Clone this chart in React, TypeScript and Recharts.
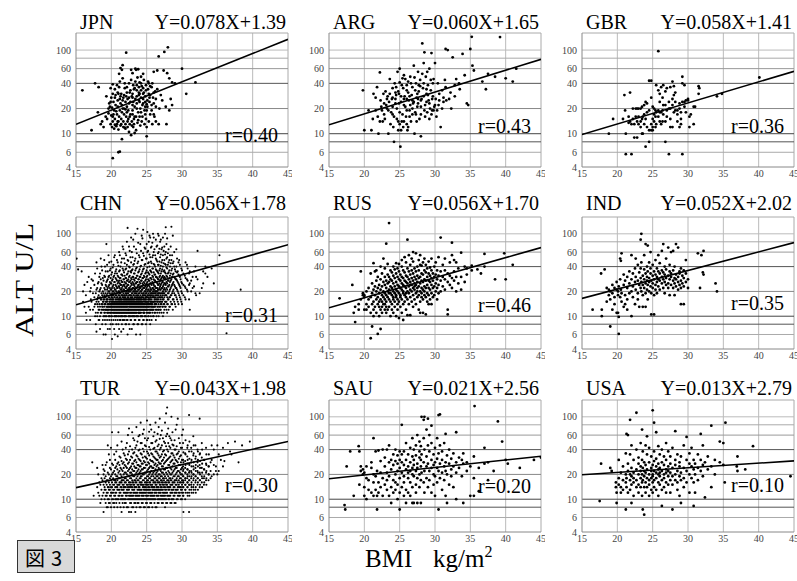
import { ScatterChart, Scatter, XAxis, YAxis, ReferenceLine } from 'recharts';

const SERIF = '"Liberation Serif", "Times New Roman", serif';

const countries = ['JPN', 'ARG', 'GBR', 'CHN', 'RUS', 'IND', 'TUR', 'SAU', 'USA'];
const slopes = [0.078, 0.06, 0.058, 0.056, 0.056, 0.052, 0.043, 0.021, 0.013];
const intercepts = [1.39, 1.65, 1.41, 1.78, 1.7, 2.02, 1.98, 2.56, 2.79];
const rValues = ['0.40', '0.43', '0.36', '0.31', '0.46', '0.35', '0.30', '0.20', '0.10'];
const xTicks = [15, 20, 25, 30, 35, 40, 45];
const yTicks = [4, 6, 10, 20, 40, 60, 100];
const yGrid = [6, 8, 10, 20, 40, 60, 80, 100];
const xGrid = [20, 25, 30, 35, 40];

const JPN = `15.9:33 17.2:11 17.7:40 18.2:36 18.5:13 18.1:18 18.7:14 18.9:12 19.3:28 19.6:20 19.2:16 22.1:93 26.7:84 27.5:95 28:108 30:60 30.6:30 31.9:41 29:40 28.6:41 27.8:13 26.7:13 25:9.3 21.2:6.1 21:6 20.2:5.1 21.5:8.6 22.8:9.6 23.3:10.2 27.9:53 28.2:46 27.4:57 26:55 25.3:40 26.5:57 28.6:22 28.2:19 27.7:21 27.2:25 26.8:20 26.3:21 26.2:32 25.7:36 25.5:37 26:31 25.2:42 24.9:33 24.5:52 24.2:48 23.8:59 23.4:60 23:53 22.8:58 21.5:58 21.3:61 21.1:52 21.6:66 23.5:58 24.6:44 24.2:40 23.9:36 23.6:33 23.2:34 22.9:28 22.6:31 22.3:26 22:24 21.7:27 21.4:30 21.1:36 20.8:38 20.5:34 20.2:39 19.9:35 20.3:24 20.6:22 20.9:21 21.2:19 21.5:18 21.8:17 22.1:16 22.4:15 22.7:17 23:19 23.3:21 23.6:23 23.9:25 24.2:27 24.5:26 24.8:28 25.1:25 25.4:24 25.7:22 26:23 24.4:22 24.1:20 23.8:18 23.5:16 23.2:15 22.9:14 22.6:13 22.3:12 22:13 21.7:14 21.4:15 21.1:16 20.8:17 20.5:15 20.2:14 19.9:13 20.1:12 20.4:11.5 20.7:12.3 21:11.2 21.3:12.5 21.9:11.8 22.5:10.5 23.1:12 23.7:13.5 24.3:14 24.9:15 25.5:17 26.1:16 24.7:19 24:24 23.1:24 22.2:21 21.3:23 20.4:19 19.8:21 20:16.5 20.9:25 21.8:29 22.7:33 23.6:38 24.5:35 25.3:30 25.9:27 24.8:21 23.4:26 22.5:23 21.6:20 20.7:18.5 22.2:18 23:17 24:16 25:19 25.8:13 26.3:26 19.6:17.5 20.1:20.5 21:14 22:19.5 23:22 24:30 25:22.5 26.5:34 27:29 28.4:26
19.4:15 19.7:23 20:27 20.3:17 20.6:29 20.9:14 21.2:26 21.5:22 21.8:20 22.1:28 22.4:19 22.7:24 23:27 23.3:16 23.6:20 23.9:29 24.2:18 24.5:23 24.8:17 25.1:21 25.4:27 25.7:19 26:17 26.3:14 22.2:36 22.5:40 22.8:44 23.1:38 23.4:42 23.7:47 24:41 24.3:37 24.6:31 24.9:38 25.2:34 25.5:29 25.8:40 21.6:46 21.9:40 21.2:42 20.9:31 20.5:27 20.2:30 19.9:24 21.4:13 21.7:12 22:11.5 22.3:14 22.6:16 22.9:12.5 23.2:13 23.5:11 23.8:14.5 24.1:12.5 24.4:16 24.7:13 25:12 25.3:14 20.8:13 20.5:12.8 20.2:16 23:30 23.3:35 23.6:28 23.9:31 24.2:33 24.5:30 24.8:24 22.5:27 22.2:31 21.9:35 21.6:25 21.3:28 21:30`;

const ARG = `19.8:33 20:11 21:11 21.3:30 21.6:27 21.8:36 22:10 22.2:54 22.3:25 22.5:19 22.7:30 22.9:15 23.1:22 23.3:28 23.4:10 23.6:45 23.8:18 24:35 24.1:12 24.2:8 24.3:40 24.4:26 24.6:20 24.7:55 24.8:14 24.9:30 25:60 25.1:7 25.2:24 25.3:38 25.4:17 25.5:12 25.6:50 25.7:28 25.8:21 25.9:16 26:33 26.1:11 26.2:42 26.3:25 26.4:19 26.5:48 26.6:14 26.7:29 26.8:36 26.9:23 27:65 27.1:10 27.2:18 27.3:40 27.4:27 27.5:21 27.6:55 27.7:32 27.8:15 27.9:44 28:9.3 28.1:26 28.2:120 28.3:35 28.4:70 28.5:94 28.6:22 28.7:48 28.8:30 28.9:18 29:38 29.1:25 29.2:60 29.3:20 29.4:33 29.5:92 29.6:19 29.7:28 29.8:45 29.9:21 30:70 30.2:16 30.4:40 30.6:30 30.8:12 31:33 31.2:27 31.4:44 31.5:103 31.8:100 32:26 32.3:20 32.5:82 32.8:38 33:45 33.5:34 33.9:90 34.2:50 34.5:23 34.7:22 35:103 35.2:144 35.3:65 35.5:57 36.7:42 37.2:34 37.5:52 38.5:48 39.2:143 40:46 41:42 41.5:60 23:32 23.5:24 24:21 24.5:29 25:18 25.5:35 26:26 26.5:22 27:24 27.5:30 28:25 28.5:19 29:29 24.2:16 25.3:14 26.4:16 27.3:17 25.8:45 24.5:36 23.7:13 22.8:17 23.2:20 26.8:20 27.6:23 28.8:24 29.5:17 30.1:26 30.5:22 31.2:24 31.6:25 24.9:23 25.6:26 26.2:31 23.9:26 22.4:21 21.9:16 22.6:14 24.8:11 25.2:11 26:13 27.9:37 28.4:40 29.7:40 30.3:19
23.2:26 23.6:30 24:17 24.4:23 24.8:32 25.2:28 25.6:22 26:19 26.4:28 26.8:25 27.2:33 27.6:26 28:21 28.4:28 28.8:34 29.2:23 29.6:26 30:22 25:41 25.4:46 26:38 26.6:40 27.1:47 27.7:38 28.2:52 28.9:55 29.4:44 24.6:15 25:13 25.6:14 26.2:12 26.8:17 27.4:14 28:17 28.6:16 29.2:15 29.8:19 30.6:25 31:20 31.5:36 32.2:31 32.8:28 33.4:40 24:27 24.4:31 23.4:19 22.8:23 22.2:14 21.6:19 21.2:15 20.6:19`;

const GBR = `18.8:10 19.4:15 20.8:15 21:29 21.1:19 21.2:10,5.7 21.6:13.5,16 21.8:31,14 22:5.7,13 22.2:15,20 22.4:13,9 22.6:16,20 22.8:9,14,20 23:20,16,13 23.3:12,14,20 23.5:15,21,10 23.6:10,16 23.8:22,17,13 24:7,15,24 24.2:23,12,18 24.5:8,43,19,11 24.8:43,27,13,11 25:12,15,21,11 25.2:20,17,14 25.4:19,12,16 25.5:38,18,13 25.8:97,33,19,16 26:30,18,24,14 26.2:18,13,36 26.4:19,27,14 26.5:38,22,17 26.8:8,22,14,32 27:35,19,16 27.3:5.7,20,24 27.5:20,36,15,12 27.8:42,12,26,22 28:37,18,29 28.2:31,24,19 28.5:19,14,17 28.8:23,20,12 29:15,13,18 29.2:5.7,48,40,24 29.5:38,24,21 29.7:25,18 30:25,26 30.2:12,16 30.4:17 30.8:13,21 31:21 31.5:37,30 31.6:35 34.1:28 34.8:30 40.1:47`;

const CHN = `15.1:50 15.3:37 15.8:35 16.2:13,24 16.5:9 16.8:13,30 17.1:16,22 17.4:12,19,27 17.7:10,14,33 17.9:6.5,15,21,45 18.1:13,17,25,11 18.3:9,14,20,30,12 18.5:11,16,22,28,50 18.7:8,13,18,14,24,36 18.9:6,10,15,19,12,27,16 19.1:9,12,14,17,21,30,11,40 19.3:10,13,15,18,23,16,26,12,75 19.5:7,11,12,14,16,19,22,28,35,13 19.7:9,10,13,15,17,20,24,31,12,45 19.9:8,11,12,14,16,18,21,25,13,29,38 20.1:5.3,10,12,13,15,17,19,22,27,34,14,16 20.3:9,11,12,14,16,18,20,24,30,13,42,15 20.5:6,10,11,13,14,15,17,19,21,26,33,12,55 20.7:8,10,12,13,15,16,18,20,23,28,37,14,11 20.9:5.7,9,11,12,14,15,17,19,22,25,31,45,13,16 21.1:7,10,11,12,13,15,16,18,20,23,27,35,14,60 21.3:9,10,12,13,14,16,17,19,21,24,29,40,15,11 21.5:8,10,11,12,14,15,16,18,20,22,26,32,50,13 21.7:7,9,11,12,13,14,16,17,19,21,24,28,36,15,65 21.9:9,10,11,13,14,15,17,18,20,23,26,31,44,12,16 22.1:8,10,12,13,14,15,16,18,19,22,25,29,38,55,11 22.3:6,9,11,12,13,15,16,17,19,21,24,27,33,48,118,14 22.5:8,10,11,12,14,15,16,18,20,22,26,30,40,70,13 22.7:9,10,12,13,14,15,17,18,20,23,27,35,52,11,16 22.9:7,10,11,12,13,14,16,17,19,21,24,28,36,60,15 23.1:8,10,11,13,14,15,16,18,20,22,25,30,42,85,12 23.3:9,10,12,13,14,16,17,19,21,23,27,33,47,11,15 23.5:6,10,11,12,14,15,16,18,20,22,25,29,38,65,13 23.7:8,10,12,13,14,15,17,18,20,23,26,31,44,115,16 23.9:9,11,12,13,15,16,17,19,21,24,28,35,55,14,11 24.1:6,10,11,12,14,15,16,18,20,22,25,30,40,75,13 24.3:8,10,12,13,14,16,17,19,21,23,27,33,48,95,15 24.5:9,11,12,13,15,16,18,19,22,24,29,37,58,112,14 24.7:10,11,12,14,15,16,18,20,22,25,30,42,68,13 24.9:8,10,12,13,15,16,17,19,21,24,28,34,50,17 25.1:9,11,12,14,15,17,18,20,23,26,31,39,60,105,13 25.3:10,11,13,14,16,17,19,21,24,27,33,45,80,15 25.5:8,11,12,14,15,17,18,20,22,25,29,36,52,90,16 25.7:9,12,13,15,16,18,19,21,24,28,34,44,70,14 25.9:10,12,13,15,17,18,20,22,25,30,38,55,100 26.1:11,13,14,16,17,19,21,23,27,32,42,65,15 26.3:9,12,14,15,17,19,20,22,26,30,37,50,85 26.5:11,13,15,16,18,20,22,25,29,35,46,72 26.7:10,12,14,16,18,19,21,24,28,33,42,60,95 26.9:12,13,15,17,19,21,23,27,31,38,52,80 27.1:11,14,15,17,19,22,25,29,35,45,65 27.3:10,13,16,18,20,23,26,31,40,55,90 27.5:12,14,17,19,22,25,30,36,48,70 27.7:13,15,18,20,24,28,33,42,60,120 27.9:11,14,17,21,25,30,38,52,88 28.1:12,16,19,23,27,34,45,65 28.3:13,17,21,26,31,40,55 28.5:14,18,23,28,36,48,122 28.7:12,16,20,25,32,44,95 28.9:15,19,24,30,40,60 29.1:13,18,22,28,35 29.3:16,21,27,34,50 29.5:14,19,25,32,45 29.7:17,23,30,42 29.9:15,20,26,38 30.2:18,24,33 30.5:16,22,29,45 30.8:20,27,38 31.1:12,25,35 31.5:22,30 31.9:19,40 32.2:62,28 32.5:19 33:35,25 33.3:33,40 34.5:25 35.3:55 36.3:6.2 38.3:21
16:20,15 16.4:11,18 16.6:26 17:12,20,9 17.2:15,28 17.6:13,17,24 17.8:11,19,8 18:10,14,16,22,38 18.2:12,15,18,26,9 18.4:10,13,17,21,33,7 18.6:11,14,16,19,25,40,12 18.8:9,12,15,17,20,29,13 19:10,11,13,16,18,22,31,48,14 19.2:8,10,12,14,17,19,24,35,15,6 19.4:9,11,13,15,16,18,21,27,42,12 19.6:10,12,13,14,17,20,23,30,55,11 19.8:7,10,11,13,15,16,19,22,26,36,14 20:9,10,12,14,15,17,18,21,25,32,46,13,11 20.2:8,11,12,13,14,16,18,20,23,28,39,15 20.4:10,11,13,14,15,17,19,22,26,31,52,12,7 20.6:9,10,12,13,15,16,18,21,24,29,35,14,11 20.8:10,11,12,14,15,17,19,22,27,33,48,13 21:8,10,12,13,14,16,18,20,23,26,30,41,15,11 21.2:9,11,12,13,15,16,17,19,22,25,29,36,55,14 21.4:10,11,12,14,15,16,18,21,24,27,32,45,13,6.5 21.6:9,10,12,13,15,17,18,20,23,26,31,38,70,14,11 21.8:10,11,13,14,15,16,18,21,24,28,34,50,12 22:8,10,11,12,14,15,17,19,22,25,29,37,58,13,16 22.2:9,11,12,13,15,16,18,20,23,27,32,42,80,14 22.4:10,11,12,14,15,17,19,21,24,28,35,47,12,16 22.6:7,10,12,13,14,16,18,20,22,26,31,39,62,15,11 22.8:9,11,12,13,15,16,18,21,25,29,34,45,90,14 23:10,11,13,14,15,17,19,22,26,30,37,52,12,16 23.2:8,10,12,13,15,16,18,20,24,28,33,43,70,14,11 23.4:9,11,12,14,15,17,19,21,25,29,36,50,100,13 23.6:10,11,13,14,16,17,19,22,26,31,39,58,12,15 23.8:8,10,12,13,15,16,18,21,24,28,34,46,78,14,11 24:9,11,12,14,15,17,19,22,26,30,37,52,13,16 24.2:10,11,13,14,16,17,20,23,27,32,41,62,12,15 24.4:8,10,12,13,15,17,18,21,25,29,35,48,88,14 24.6:9,11,12,14,16,17,19,22,26,31,38,54,13,11 24.8:10,12,13,15,16,18,20,23,27,33,43,66,14 25:9,11,12,14,15,17,19,22,25,30,36,50,75,13 25.2:10,12,13,15,16,18,21,24,28,34,44,62,14 25.4:9,11,13,14,16,18,20,23,27,32,40,56,95,12 25.6:10,12,13,15,17,19,21,25,29,35,46,68,14 25.8:11,12,14,15,17,19,22,26,31,38,52,78,13 26:10,12,13,15,17,19,21,24,28,34,43,60,90 26.2:11,13,14,16,18,20,23,27,32,40,55 26.4:10,12,14,16,18,20,22,26,30,36,48,70 26.6:12,13,15,17,19,21,24,28,34,42,58,100 26.8:11,13,15,17,19,22,25,30,36,46,66 27:12,14,16,18,21,24,28,33,41,56,85 27.2:13,15,17,19,22,26,30,37,48,68 27.4:11,14,16,19,21,24,29,35,44,62 27.6:13,15,18,21,25,29,34,43,56,100 27.8:12,15,18,22,26,31,39,50,75 28:14,16,19,23,27,33,42,58 28.2:13,17,20,24,29,36,48 28.4:15,18,22,27,33,44,70 28.6:14,19,24,30,38,55 28.8:16,21,26,33,46 29:14,18,23,29,37 29.2:17,22,28,40,65 29.4:15,20,26,35 29.6:18,24,31,48 29.8:16,22,28 30:14,19,25,36 30.4:17,23,31 30.7:21,28,42 31:16,24,33 31.3:20,27 31.7:23,35 32:18,30 32.8:22 33.6:30 34.2:38`;

const RUS = `16.5:16.5 18.3:24 18.5:11 18.7:8.5,13 19.2:14,12 19.5:35,16 19.8:19,18 20:18,12,17 20.3:12,20,14 20.6:16,13,22 20.9:5.4,11,17,33 21.1:7.5,14,19,25 21.3:10,15,21,12,44 21.5:13,18,23,35 21.7:11,16,20,27,36 21.9:6.1,14,17,22,30 22.1:10,13,19,24,15 22.3:12,16,21,28,40,7 22.5:11,15,18,23,33,13 22.7:14,17,20,26,50 22.9:12,16,19,24,30,38,14 23.1:11,13,18,22,27,76,15 23.3:12,17,20,25,32,43 23.5:13,16,21,26,30,135,19 23.7:10,15,19,23,28,36 23.9:14,18,22,27,34,12 24.1:11,16,20,25,31,40,17 24.3:13,19,23,29,37,15 24.5:10,17,21,26,33,44,18 24.7:12,16,20,24,30,38,14 24.9:9.5,15,19,23,28,35,43 25.1:13,18,22,27,32,17 25.3:11,16,21,25,30,40,48 25.5:9,14,19,24,29,36,20 25.7:15,18,23,27,34,52 25.9:12,17,22,26,31,45,19 26.1:10.3,16,20,25,30,38,85 26.3:14,19,23,28,35,55 26.5:10.3,17,21,26,32,42,24 26.7:15,20,24,29,36,50 26.9:13,18,22,27,33,46,60 27.1:16,21,25,30,38,23 27.3:14,19,24,28,35,58 27.5:17,22,26,31,40,20 27.7:12,18,23,29,36,48 27.9:15,20,25,30,42,55,11 28.1:17,22,27,33,41,19 28.3:11,16,21,26,32,45 28.5:18,23,28,36,50,20 28.7:10.5,17,22,27,34,42 28.9:15,19,24,30,38 29.1:18,22,27,33,46,14 29.3:16,21,26,31,39 29.5:14,19,24,29,36,50 29.7:17,22,27,33 29.9:18,23,30,40 30.1:20,25,32,45 30.3:16,22,28,36 30.5:19,24,31,52 30.8:20,27,35,90 31.1:23,30,42 31.4:21,28,36,50 31.8:12,10.5,26,33 32.1:24,31,45 32.4:22,29,78,55 32.7:27,35,48 33:20,30,45 33.3:25,38 33.7:21,59,30 34.2:26,40 34.5:38,32 35.2:41,36 36:37 36.5:33 37:40,57 38.5:28 39.8:58 40:28 41:42`;

const IND = `16.5:12 17.7:33 17.8:10,12 18.2:37 18.5:22,15 18.8:18,21 19:7.5,20,16 19.3:19,12,24 19.6:17,22,14 19.9:21,11,26 20.1:20,11,18 20.2:6.1,9.8,23 20.4:50,17,28 20.5:47,21 20.6:58,15,19 20.9:24,32,13 21.1:18,27,14 21.4:12,22,30,16 21.7:25,19,35 22:10,55,20,28 22.2:17,33,23 22.5:26,38,14 22.6:50,21,30 22.9:19,27,42,16 23.1:24,34,13 23.3:85,22,29,38 23.4:100,26,20,45 23.6:13,31,24,18 23.8:28,37,22,55 24:75,13,25,33,19 24.2:30,40,21,27 24.3:72,35,24,16 24.5:29,45,20,26 24.7:33,23,38,60 24.8:10.5,27,19 25:31,22,42,25 25.2:10.5,28,35,18 25.4:24,32,48,21 25.6:30,26,38,19 25.8:35,23,28,55 26:27,33,21,44 26.3:62,30,25,36 26.5:75,28,22,34 26.7:32,26,40,19 26.9:24,29,37,50 27.2:68,31,25,22 27.4:35,28,42,18 27.6:30,24,33,60 27.9:62,27,36,22 28.1:29,25,40,18 28.3:75,32,23,28 28.6:68,30,26,21 28.8:35,24,33 29:14,27,38,22 29.2:31,25 29.4:14,29,36,23 29.7:48,26,33 30:28,22 31.4:58 31.7:22 31.9:55 32.1:34 32.2:62,32 33.9:25 34.1:20`;

const TUR = `17.3:28 17.5:11 18:14,24 18.3:16,11 18.6:18,13,10 18.9:7,12,15,20,23 19.2:9,11,13,16,19,26 19.5:10,12,14,17,21,45,8 19.8:9,11,13,15,18,24,30 20.1:10,12,14,16,20,27,65 20.4:8,11,13,15,17,22,35,9 20.7:9,10,12,14,16,19,25,38 21:10,11,13,15,18,21,28,65 21.3:8,10,12,14,16,20,24,32 21.6:9,11,13,15,17,22,27,40,10 21.9:10,12,14,16,18,21,26,34,9 22.2:8,11,12,13,15,17,20,24,30,48 22.5:7,10,11,13,14,16,19,23,28,38,72 22.8:7,9,11,12,14,15,18,21,25,33,10 23.1:8,10,12,13,15,16,19,22,27,36,55,11 23.4:7,9,11,12,14,16,17,20,24,30,42,10 23.7:9,10,12,13,15,17,19,22,26,33,50,11 24:8,10,11,13,14,16,18,21,25,30,40,60,12 24.3:9,10,12,13,15,16,19,23,27,35,48,11 24.6:8,10,11,12,14,15,17,20,24,29,38,70,13 24.9:9,10,12,13,14,16,18,21,26,32,44,11,15 25.2:8,10,11,13,14,15,17,19,23,28,36,55,12 25.5:9,10,12,13,15,16,18,21,25,30,40,80,11 25.8:8,10,11,12,14,15,17,20,24,29,35,48,13 26.1:9,10,12,13,14,16,18,22,26,32,42,65,11 26.4:8,11,12,13,15,17,19,21,25,30,38,52,14 26.7:9,10,11,13,14,16,18,20,24,28,34,46,75,12 27:10,11,12,14,15,17,19,22,27,33,42,60,13 27.3:9,10,12,13,15,16,18,21,25,30,38,55,11 27.6:8,10,11,13,14,16,19,23,28,35,48,85,12 27.9:9,11,12,14,15,17,20,24,30,40,62,130 28.2:10,11,13,14,16,18,21,26,32,44,58 28.5:9,10,12,13,15,17,20,23,29,36,52,100 28.8:10,11,13,14,16,19,22,27,34,45 29.1:9,12,13,15,17,20,24,30,40,70 29.4:10,11,13,14,16,19,22,28,36,95 29.7:11,12,14,16,18,21,26,33,48 30:10,12,13,15,17,20,24,30,42,60 30.2:7,11,14,16,19,23,28,37 30.5:12,13,15,18,21,26,35,52 30.8:11,14,16,19,23,30,45 31:7,12,15,17,21,27,38,105 31.3:13,15,18,22,28,42 31.6:12,14,17,20,25,34,58 31.9:13,16,19,24,31,45 32.2:15,18,22,28,40 32.5:14,17,21,26,35,95 32.8:16,19,24,32,48 33.1:15,18,23,30 33.4:17,21,27,42 33.8:20,25,35 34.2:19,30,45 34.8:25,22 35:45,20 35.5:30 36:29 36.5:48 37:35 37.5:50 38:28 39.6:50
18.15:12,20 18.45:9,15 18.75:11,17,26 19.05:10,13,14,18,22 19.35:8,11,12,15,17,28 19.65:9,10,13,14,16,20,35 19.95:8,11,12,14,17,19,23,42 20.25:9,10,12,13,15,18,21,26 20.55:10,11,12,14,16,17,20,24,30 20.85:8,10,13,14,15,17,19,23,27,45 21.15:9,11,12,13,15,16,18,22,26,33 21.45:7,10,11,13,14,16,17,19,23,29,50 21.75:8,10,12,13,14,15,17,20,24,28,36 22.05:9,10,11,12,14,16,18,21,25,31,42 22.35:8,10,12,13,14,15,17,19,22,27,35,60 22.65:9,10,11,12,14,15,16,18,21,24,30,44 22.95:8,10,11,13,14,16,17,20,23,27,32,40,65 23.25:9,10,12,13,14,15,17,19,22,25,29,37,52 23.55:8,10,11,12,14,16,18,21,24,28,34,45,75 23.85:9,10,11,13,14,15,17,20,23,26,31,39,58 24.15:8,10,12,13,15,16,18,19,22,25,29,36,48,85 24.45:9,10,11,12,14,15,17,20,23,27,32,41,62 24.75:8,10,12,13,14,16,18,21,24,28,33,45,55 25.05:9,10,11,13,15,16,17,19,22,26,31,38,52,90 25.35:8,10,12,13,14,16,18,20,24,27,34,43,66 25.65:9,10,11,12,14,15,17,19,22,25,29,36,48,70 25.95:10,11,13,14,16,17,19,21,24,28,33,41,58 26.25:8,10,12,13,15,16,18,20,23,27,31,38,50,85 26.55:9,10,11,13,14,16,17,19,22,26,30,36,44,62 26.85:10,12,13,15,16,18,20,23,27,32,40,54,95 27.15:9,10,11,13,14,16,17,19,21,25,29,35,45,68 27.45:10,11,12,14,15,17,18,20,23,27,32,39,50 27.75:9,10,12,13,15,16,18,21,24,29,34,44,58,110 28.05:10,11,13,14,16,17,19,22,26,31,38,48,72 28.35:9,11,12,14,15,17,18,20,24,28,33,42,55 28.65:10,12,13,15,16,18,21,25,30,36,46,65 28.95:9,11,12,14,16,17,19,23,27,32,40,52 29.25:10,12,13,15,17,18,21,24,29,35,44,80 29.55:11,12,14,15,17,19,22,26,31,38,55 29.85:10,13,14,16,18,20,23,28,34,42 30.15:11,12,14,16,17,19,22,25,30,48,70 30.45:10,13,15,17,18,21,24,29,36 30.75:12,14,16,18,20,23,27,33,42 31.05:11,13,15,17,19,22,26,31,50 31.35:12,14,16,19,21,25,30,38 31.65:13,15,18,20,23,28,36,45 31.95:12,14,17,19,22,26,33 32.25:13,16,18,21,25,30,38 32.55:15,17,20,24,29,36 32.85:14,18,21,27,40 33.15:16,19,23,30 33.45:15,18,22,26,35 33.75:17,20,25 34.05:18,22,28 34.5:20,26,40 35.2:22,35 35.8:25,42 36.8:38 38.5:45`;

const SAU = `17.2:8.5 17.3:7.5 17.5:25 18:38 18.5:11 19.2:44 19.3:38,15 19.5:22,25 19.8:20,23 20:21,11,14 20.3:18,10,25 20.6:17,13 21:24,12,28 21.3:55,20,11,16 21.6:19,13,38 21.8:7.5,22,11 22:39,16,12 22.3:21,29,14 22.6:40,18,11 22.9:25,15,32 23.2:21,13,40,17 23.5:28,11,19,45 23.8:23,14,30,9 24.1:26,17,12,35 24.4:20,29,13,40,16 24.7:22,15,34,10,27 25:24,7.5,18,30,38,12 25.3:80,21,14,28,35 25.6:19,26,11,38,16 25.9:23,30,13,48,9 26.2:25,18,35,12,21 26.5:28,16,42,11,22 26.8:24,20,33,14,55,9 27:9,30,19,26,40 27.3:22,34,15,45,12 27.5:9,27,18,60,24 27.8:32,20,14,50,38 28:9,25,44,17,30 28.1:100,35,21 28.4:92,28,16,55 28.5:100,40,22,12 28.8:33,18,70,25 29:95,27,45,14 29.2:22,38,17,60 29.5:78,30,24,12,48 29.8:20,35,26,15 30:28,42,19,11 30.3:24,55,31,16 30.5:105,7.5,22,36 30.7:107,27,18,45 31:30,21,13,38 31.3:25,48,17 31.5:62,28,22,11 31.7:9,34,20 32:27,15,40 32.3:23,31,19 32.6:36,25,14 33:65,10,28,21 33.4:24,32 33.8:30,19 34:9,27,36 34.5:22,28 35:11,25 35.5:11,18,33 35.6:135 36.2:12.5,24 37:27,42 37.5:28,17 38.3:22 38.9:88 39.5:50 40:30 40.3:27 42:24 44:30 45:32`;

const USA = `17.5:9.5 17.7:27 19:24 19.2:22 19.8:14,16 19.9:9,12 20.2:30,15,18 20.5:12,14,21 20.8:17,13,25 21.2:7.5,16,20,36 21.3:62,14,18 21.5:60,22,12,27 21.8:92,17,13,35,20 22:9,19,24,15,45 22.3:16,21,30,11,18 22.7:112,14,23,17,40 23:20,27,15,12,32 23.3:18,22,48,14,25 23.5:70,16,20,11,30 23.6:7.5,24,17,38 23.8:6.5,19,14,28,22 24:21,16,45,12,26 24.2:58,18,23,35,14 24.5:20,15,28,11,42,17 24.8:24,18,22,13,33 25:120,19,16,26,12,20 25.2:85,22,14,29,17,38 25.5:65,21,18,25,13,31 25.8:23,16,44,20,11,27 26:19,24,15,35,21 26.3:8.3,22,17,28,13,40 26.6:20,26,18,33,14 26.9:23,16,30,21,48,12 27.2:19,25,15,38,22 27.5:21,17,27,12,33 27.8:7.5,24,19,42,15 28.2:67,20,26,17,30 28.5:22,16,35,13 28.8:25,19,28,11 29:9,21,33,17 29.4:24,18,45,14 29.8:57,22,30,16 30.2:20,27,12,36 30.5:25,18,42 30.8:8.3,23,30,16 31:12,27,20 31.4:24,35,17 31.8:62,22,30 32.1:26,45,19 32.4:10.5,28 32.8:23,33 33.3:78,14,25 33.8:30,20 34.5:50,28 35:48,26 35.2:16 35.3:85 36.9:25 37:33,22 38.1:23 39.2:44 44.5:19`;

const pointSets = [JPN, ARG, GBR, CHN, RUS, IND, TUR, SAU, USA];
const DENSE = ['CHN', 'TUR'];

const plotLefts = [76, 329, 582];
const plotTops = [33, 217, 400];
const plotHeights = [134, 132, 132];
const PW = 212;
const YW = 34;
const RM = 4;
const TM = 2;
const XH = 16;
const rTops = [109, 100, 100, 105, 95, 93, 92, 93, 92];
const titleGap = [4, 7, 5];

const gridColor: Record<number, string> = { 6: '#aaa', 8: '#555', 10: '#444', 20: '#888', 40: '#555', 60: '#999', 80: '#aaa', 100: '#bbb' };

function parsePts(s: string) {
  const out: { x: number; y: number }[] = [];
  s.trim().split(/\s+/).forEach((tok) => {
    const [xs, ys] = tok.split(':');
    const x = parseFloat(xs);
    ys.split(',').forEach((y) => out.push({ x, y: parseFloat(y) }));
  });
  return out;
}

function Panel({ idx }: { idx: number }) {
  const row = Math.floor(idx / 3);
  const col = idx % 3;
  const ph = plotHeights[row];
  const pts = parsePts(pointSets[idx]);
  const dense = DENSE.includes(countries[idx]);
  const fit = [15, 45].map((x) => ({ x, y: Math.exp(slopes[idx] * x + intercepts[idx]) }));
  const tick = { fontSize: 10, fill: '#444', fontFamily: SERIF };

  return (
    <div style={{ position: 'absolute', left: plotLefts[col] - YW, top: plotTops[row] - TM, fontFamily: SERIF }}>
      <ScatterChart width={YW + PW + RM} height={TM + ph + XH} margin={{ top: TM, right: RM, bottom: 0, left: 0 }}
        style={{ fontFamily: SERIF }}>
        <XAxis type="number" dataKey="x" domain={[15, 45]} ticks={xTicks} interval={0} allowDataOverflow
          tickLine={false} tickSize={0} tickMargin={3} height={XH} axisLine={{ stroke: '#888' }} tick={tick} />
        <YAxis type="number" dataKey="y" scale="log" domain={[4, 160]} ticks={yTicks} interval={0} allowDataOverflow
          tickLine={false} tickSize={0} tickMargin={5} width={YW} axisLine={{ stroke: '#888' }} tick={tick} />
        {xGrid.map((v) => <ReferenceLine key={'x' + v} x={v} stroke="#bbb" />)}
        <ReferenceLine x={45} stroke="#aaa" />
        {yGrid.map((v) => <ReferenceLine key={'y' + v} y={v} stroke={gridColor[v]} />)}
        <ReferenceLine y={160} stroke="#aaa" />
        <Scatter data={pts} isAnimationActive={false}
          shape={(p: any) => <circle cx={p.cx} cy={p.cy} r={dense ? 1.05 : 1.4} fill="#000" />} />
        <Scatter data={fit} isAnimationActive={false} line={{ stroke: '#000', strokeWidth: 1.6 }}
          shape={() => <g />} />
      </ScatterChart>
    </div>
  );
}

export default function App() {
  return (
    <div style={{ position: 'absolute', left: 0, top: 0, width: 797, height: 581, overflow: 'hidden', background: '#fff' }}>
      {countries.map((c, i) => <Panel key={c} idx={i} />)}
      <svg width={797} height={581} style={{ position: 'absolute', left: 0, top: 0, pointerEvents: 'none' }}
        fontFamily={SERIF}>
        {countries.map((c, i) => {
          const row = Math.floor(i / 3);
          const col = i % 3;
          const left = plotLefts[col];
          const top = plotTops[row];
          return (
            <g key={c}>
              <text x={left + 4} y={top - titleGap[row]} fontSize={20}>{c}</text>
              <text x={left + PW - 2} y={top - titleGap[row]} fontSize={20} textAnchor="end">
                {`Y=${slopes[i].toFixed(3)}X+${intercepts[i].toFixed(2)}`}
              </text>
              <text x={left + 149} y={top + rTops[i]} fontSize={20}>{`r=${rValues[i]}`}</text>
            </g>
          );
        })}
        <text x={0} y={0} fontSize={25} textAnchor="middle" textLength={114} lengthAdjust="spacingAndGlyphs"
          transform="translate(33 280) rotate(-90)">ALT U/L</text>
        <text x={365} y={567} fontSize={25}>BMI</text>
        <text x={433} y={567} fontSize={25}>kg/m<tspan dy={-10} fontSize={16}>2</tspan></text>
        <rect x={17.5} y={540.5} width={57} height={32} fill="#d9d9d9" stroke="#333" />
        <text x={25} y={566} fontSize={20} fontFamily='"Noto Sans CJK JP", sans-serif'>図</text>
        <text x={51} y={566} fontSize={20} fontFamily='"Noto Sans CJK JP", sans-serif'>3</text>
      </svg>
    </div>
  );
}
